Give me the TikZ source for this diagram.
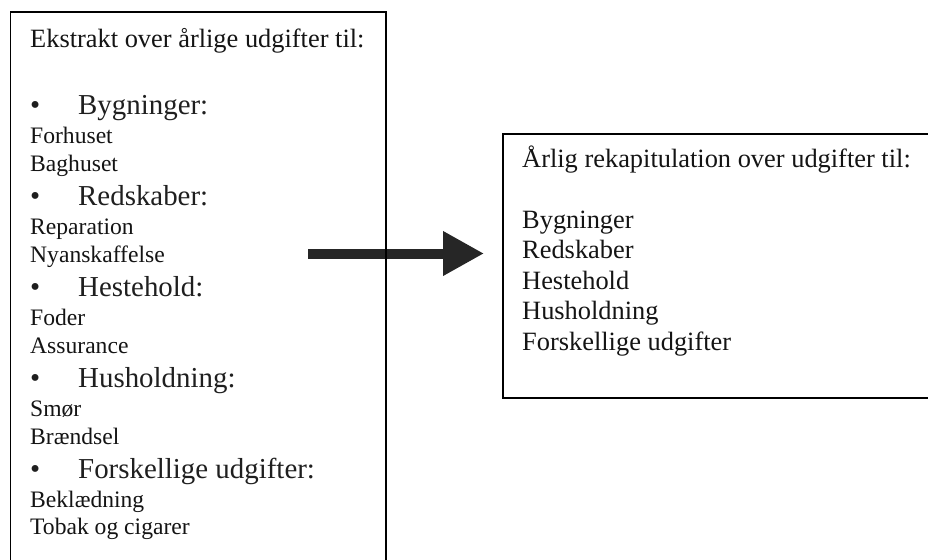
\documentclass[tikz,border=0pt]{standalone}
\usepackage{fontspec}
\setmainfont{Liberation Serif}
\usetikzlibrary{arrows.meta}
\tikzset{
  frame/.style={draw=black, line width=1.6pt, inner sep=0pt, anchor=north west},
  head/.style={anchor=base west, inner sep=0pt, text=black!92, font=\fontsize{26.4}{30}\selectfont},
  bul/.style={anchor=base west, inner sep=0pt, text=black!88, font=\fontsize{28.9}{33}\selectfont},
  sub/.style={anchor=base west, inner sep=0pt, text=black!92, font=\fontsize{23.6}{27}\selectfont},
  bigarrow/.style={draw=black!85, line width=10pt, -{Triangle[length=41pt,width=42pt]}}
}
\begin{document}
\begin{tikzpicture}[x=1pt,y=-1pt]
\clip (0,0) rectangle (928,559);
% arrow (drawn first, box border lies on top)
\coordinate (arrS) at (308,253.5);
\coordinate (arrE) at (484,253.5);
\draw[bigarrow] (arrS) -- (arrE);
% boxes
\node[frame, minimum width=375.5pt, minimum height=570pt] (leftbox) at (9.5,11.5) {};
\node[frame, minimum width=440pt, minimum height=264pt] (rightbox) at (502,133) {};
% left box text
\node[head] (lhead) at (30,47.5) {Ekstrakt over årlige udgifter til:};
\node[bul] (b1) at (30,114) {•};
\node[bul] (h1) at (78,114) {Bygninger:};
\node[sub] (s11) at (30,143) {Forhuset};
\node[sub] (s12) at (30,171) {Baghuset};
\node[bul] (b2) at (30,205) {•};
\node[bul] (h2) at (78,205) {Redskaber:};
\node[sub] (s21) at (30,234) {Reparation};
\node[sub] (s22) at (30,262.5) {Nyanskaffelse};
\node[bul] (b3) at (30,296) {•};
\node[bul] (h3) at (78,296) {Hestehold:};
\node[sub] (s31) at (30,325) {Foder};
\node[sub] (s32) at (30,353) {Assurance};
\node[bul] (b4) at (30,387.5) {•};
\node[bul] (h4) at (78,387.5) {Husholdning:};
\node[sub] (s41) at (30,416) {Smør};
\node[sub] (s42) at (30,444) {Brændsel};
\node[bul] (b5) at (30,478.6) {•};
\node[bul] (h5) at (78,478.6) {Forskellige udgifter:};
\node[sub] (s51) at (30,507) {Beklædning};
\node[sub] (s52) at (30,534.6) {Tobak og cigarer};
% right box text
\node[head] (rhead) at (522,167) {Årlig rekapitulation over udgifter til:};
\node[head] (r1) at (522,228) {Bygninger};
\node[head] (r2) at (522,258.5) {Redskaber};
\node[head] (r3) at (522,289) {Hestehold};
\node[head] (r4) at (522,319.5) {Husholdning};
\node[head] (r5) at (522,350) {Forskellige udgifter};
\end{tikzpicture}
\end{document}
